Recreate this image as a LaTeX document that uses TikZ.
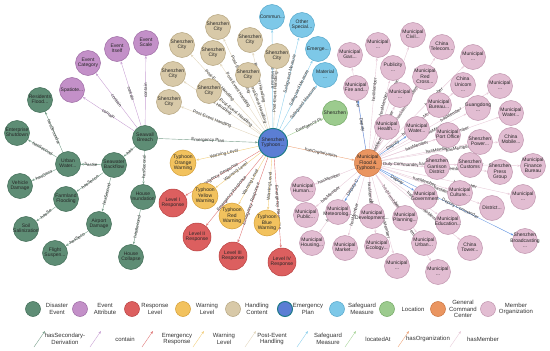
\documentclass[tikz,border=0pt]{standalone}
\usepackage{fontspec}
\setmainfont{Liberation Sans}
\usetikzlibrary{arrows.meta,backgrounds}
\definecolor{disF}{HTML}{5E8D75}\definecolor{disD}{HTML}{3F6B55}
\definecolor{attF}{HTML}{C390C8}\definecolor{attD}{HTML}{9C6AA3}
\definecolor{respF}{HTML}{DC5F5F}\definecolor{respD}{HTML}{B84040}
\definecolor{warnF}{HTML}{F2C25E}\definecolor{warnD}{HTML}{D49E35}
\definecolor{handF}{HTML}{D8C9A8}\definecolor{handD}{HTML}{B5A47F}
\definecolor{planF}{HTML}{5B7ED4}\definecolor{planD}{HTML}{1E7A87}
\definecolor{safeF}{HTML}{7DC8E8}\definecolor{safeD}{HTML}{55A7CB}
\definecolor{locF}{HTML}{9CCB8E}\definecolor{locD}{HTML}{72A864}
\definecolor{cmdF}{HTML}{EA9560}\definecolor{cmdD}{HTML}{C97440}
\definecolor{memF}{HTML}{E2BDD2}\definecolor{memD}{HTML}{C095AE}
\definecolor{eSecC}{HTML}{7AA08C}\definecolor{eConC}{HTML}{C9A2D4}
\definecolor{eRespC}{HTML}{E07A7A}\definecolor{eWarnC}{HTML}{F2CF80}
\definecolor{ePostC}{HTML}{E2D7BE}\definecolor{eSafeC}{HTML}{8FD0EC}
\definecolor{eLocC}{HTML}{A9D59B}\definecolor{eOrgC}{HTML}{EEA77D}
\definecolor{eMemC}{HTML}{E8CCDA}\definecolor{eDepC}{HTML}{5F93E0}
\newcommand{\ct}[1]{\makebox[0pt]{\begin{tabular}{@{}c@{}}#1\end{tabular}}}
\begin{document}
\begin{tikzpicture}[x=1pt,y=-1pt]
  \tikzset{nd/.style={circle,draw,line width=0.5pt,minimum size=25pt,inner sep=0pt,
      font=\fontsize{5}{5.5}\selectfont,text=black!85},
    dis/.style={nd,fill=disF,draw=disD}, att/.style={nd,fill=attF,draw=attD},
    resp/.style={nd,fill=respF,draw=respD,minimum size=28pt}, warn/.style={nd,fill=warnF,draw=warnD,minimum size=26pt},
    hand/.style={nd,fill=handF,draw=handD}, plan/.style={nd,fill=planF,draw=planD,line width=1pt,minimum size=29pt},
    safe/.style={nd,fill=safeF,draw=safeD}, loc/.style={nd,fill=locF,draw=locD},
    cmd/.style={nd,fill=cmdF,draw=cmdD,minimum size=27pt}, mem/.style={nd,fill=memF,draw=memD},
    ed/.style={line width=0.4pt,-{Stealth[length=3pt,width=2.2pt]}},
    eSec/.style={ed,draw=eSecC}, eCon/.style={ed,draw=eConC}, eResp/.style={ed,draw=eRespC},
    eWarn/.style={ed,draw=eWarnC}, ePost/.style={ed,draw=ePostC}, eSafe/.style={ed,draw=eSafeC},
    eLoc/.style={ed,draw=eLocC}, eOrg/.style={ed,draw=eOrgC}, eMem/.style={ed,draw=eMemC},
    eDep/.style={ed,draw=eDepC},
    lb/.style={sloped,inner sep=0.4pt,font=\fontsize{4.5}{5}\selectfont,text=black!80},
    lgt/.style={align=center,font=\fontsize{6}{6.6}\selectfont,text=black!80}}
  \useasboundingbox (0,0) rectangle (550,351);
  % disaster events
  \node[dis] (sb) at (145,138) {\ct{Seawall\\Breach}};
  \node[dis] (rf) at (40,100) {\ct{Residents\\Flood...}};
  \node[dis] (es) at (17,133) {\ct{Enterprise\\Shutdown}};
  \node[dis] (uw) at (68,164) {\ct{Urban\\Water...}};
  \node[dis] (bf) at (114,165) {\ct{Seawater\\Backflow}};
  \node[dis] (vd) at (20,186) {\ct{Vehicle\\Damage}};
  \node[dis] (ff) at (66,199) {\ct{Farmland\\Flooding}};
  \node[dis] (hi) at (143,197) {\ct{House\\Inundation}};
  \node[dis] (ss) at (26,229) {\ct{Soil\\Salinization}};
  \node[dis] (ad) at (99,224) {\ct{Airport\\Damage}};
  \node[dis] (fs) at (55,253) {\ct{Flight\\Suspen...}};
  \node[dis] (hc) at (131,257) {\ct{House\\Collapse}};
  % event attributes
  \node[att] (sp) at (72,90) {\ct{Spatiote...}};
  \node[att] (ec) at (88,63) {\ct{Event\\Category}};
  \node[att] (ei) at (117,49) {\ct{Event\\Itself}};
  \node[att] (esc) at (146,43) {\ct{Event\\Scale}};
  % plan and command centre
  \node[plan] (hub) at (273,143) {\ct{Shenzhen\\Typhoon...}};
  \node[cmd] (cmd) at (368,163) {\ct{Municipal\\Flood \&\\Typhoon...}};
  % handling content
  \node[hand] (c1) at (218,27) {\ct{Shenzhen\\City}};
  \node[hand] (c2) at (250,40) {\ct{Shenzhen\\City}};
  \node[hand] (c3) at (182,45) {\ct{Shenzhen\\City}};
  \node[hand] (c4) at (213,53) {\ct{Shenzhen\\City}};
  \node[hand] (c5) at (277,56) {\ct{Shenzhen\\City}};
  \node[hand] (c6) at (248,75) {\ct{Shenzhen\\City}};
  \node[hand] (c7) at (173,74) {\ct{Shenzhen\\City}};
  \node[hand] (c8) at (209,91) {\ct{Shenzhen\\City}};
  \node[hand] (c9) at (169,102) {\ct{Shenzhen\\City}};
  % safeguard measures and location
  \node[safe] (s1) at (272,17) {\ct{Commun...}};
  \node[safe] (s2) at (302,25) {\ct{Other\\Special...}};
  \node[safe] (s3) at (318,49) {\ct{Emerge...}};
  \node[safe] (s4) at (325,75) {\ct{Material\\...}};
  \node[loc] (lsz) at (335,113) {\ct{Shenzhen}};
  % warning and response levels
  \node[warn] (w1) at (183,163) {\ct{Typhoon\\Orange\\Warning}};
  \node[warn] (w2) at (205,196) {\ct{Typhoon\\Yellow\\Warning}};
  \node[warn] (w3) at (232,216) {\ct{Typhoon\\Red\\Warning}};
  \node[warn] (w4) at (267,223) {\ct{Typhoon\\Blue\\Warning}};
  \node[resp] (r1) at (173,203) {\ct{Level I\\Response}};
  \node[resp] (r2) at (197,237) {\ct{Level II\\Response}};
  \node[resp] (r3) at (233,256) {\ct{Level III\\Response}};
  \node[resp] (r4) at (282,262) {\ct{Level IV\\Response}};
  % member organizations
  \node[mem] (m1) at (350,55) {\ct{Municipal\\Gas...}};
  \node[mem] (m2) at (378,45) {\ct{Municipal\\...}};
  \node[mem] (m3) at (413,35) {\ct{Municipal\\Civil...}};
  \node[mem] (m4) at (393,68) {\ct{Publicity\\...}};
  \node[mem] (m5) at (356,88) {\ct{Municipal\\Fire and...}};
  \node[mem] (m6) at (400,95) {\ct{Municipal\\...}};
  \node[mem] (m7) at (387,127) {\ct{Municipal\\Health...}};
  \node[mem] (m8) at (417,129) {\ct{Municipal\\Water...}};
  \node[mem] (m9) at (425,77) {\ct{Municipal\\Red\\Cross...}};
  \node[mem] (m10) at (442,47) {\ct{China\\Telecom...}};
  \node[mem] (m11) at (473,57) {\ct{Municipal\\...}};
  \node[mem] (m12) at (463,85) {\ct{China\\Unicom\\...}};
  \node[mem] (m13) at (500,86) {\ct{Municipal\\...}};
  \node[mem] (m14) at (439,105) {\ct{Municipal\\Bureau...}};
  \node[mem] (m15) at (478,108) {\ct{Guangdong\\...}};
  \node[mem] (m16) at (511,113) {\ct{Municipal\\Water...}};
  \node[mem] (m17) at (448,135) {\ct{Municipal\\Port Office}};
  \node[mem] (m18) at (480,142) {\ct{Shenzhen\\Power...}};
  \node[mem] (m19) at (511,140) {\ct{China\\Mobile...}};
  \node[mem] (m20) at (437,167) {\ct{Shenzhen\\Garrison\\District}};
  \node[mem] (m21) at (470,165) {\ct{Shenzhen\\Customs}};
  \node[mem] (m22) at (500,172) {\ct{Shenzhen\\Press\\Group}};
  \node[mem] (m23) at (533,166) {\ct{Municipal\\Finance\\Bureau}};
  \node[mem] (m24) at (425,197) {\ct{Municipal\\Government}};
  \node[mem] (m25) at (460,193) {\ct{Municipal\\Culture...}};
  \node[mem] (m26) at (492,208) {\ct{District...}};
  \node[mem] (m27) at (523,197) {\ct{Municipal\\...}};
  \node[mem] (m28) at (448,222) {\ct{Municipal\\Education...}};
  \node[mem] (m29) at (525,241) {\ct{Shenzhen\\Broadcasting\\...}};
  \node[mem] (m30) at (405,218) {\ct{Municipal\\Planning...}};
  \node[mem] (m31) at (424,243) {\ct{Municipal\\Urban...}};
  \node[mem] (m32) at (470,248) {\ct{China\\Tower...}};
  \node[mem] (m33) at (438,272) {\ct{Municipal\\...}};
  \node[mem] (m34) at (397,266) {\ct{Municipal\\...}};
  \node[mem] (m35) at (303,189) {\ct{Municipal\\Human...}};
  \node[mem] (m36) at (306,215) {\ct{Municipal\\Public...}};
  \node[mem] (m37) at (338,212) {\ct{Municipal\\Meteorolog...}};
  \node[mem] (m38) at (372,216) {\ct{Municipal\\Development...}};
  \node[mem] (m39) at (312,243) {\ct{Municipal\\Housing...}};
  \node[mem] (m40) at (345,248) {\ct{Municipal\\Market...}};
  \node[mem] (m41) at (377,246) {\ct{Municipal\\Ecology...}};
  \begin{scope}[on background layer]
    \draw[eSec] (uw) -- node[lb] {hasSecondar} (rf);
    \draw[eSec] (uw) -- node[lb] {hasSecond} (es);
    \draw[eSec] (uw) -- node[lb] {hasSeco} (vd);
    \draw[eSec] (bf) -- node[lb] {hasSe} (uw);
    \draw[eSec] (bf) -- node[lb] {hasSecon} (ff);
    \draw[eSec] (ff) -- node[lb] {hasSe} (ss);
    \draw[eSec] (bf) -- node[lb] {hasSecond} (ad);
    \draw[eSec] (ad) -- node[lb] {hasSeco} (fs);
    \draw[eSec] (sb) -- node[lb] {has} (bf);
    \draw[eSec] (sb) -- node[lb] {hasSecond} (hi);
    \draw[eSec] (hi) -- node[lb] {hasSecond} (hc);
    \draw[eSec] (sb) -- node[lb] {Emergency Plan} (hub);
    \foreach \a in {sp,ec,ei,esc} \draw[eCon] (sb) -- node[lb] {contain} (\a);
    \foreach \c in {1,...,9} \draw[ePost] (hub) -- node[lb,pos=0.6] {Post-Event Handling} (c\c);
    \foreach \s in {1,...,4} \draw[eSafe] (hub) -- node[lb,pos=0.6] {Safeguard Measure} (s\s);
    \draw[eLoc] (hub) -- node[lb,pos=0.6] {Emergency Pl} (lsz);
    \foreach \w in {1,...,4} \draw[eWarn] (hub) -- node[lb,pos=0.55] {Warning Level} (w\w);
    \foreach \r in {1,...,4} \draw[eResp] (hub) -- node[lb,pos=0.55] {Emergency Response} (r\r);
    \draw[eOrg] (hub) -- node[lb] {hasOrganization} (cmd);
    \foreach \m in {1,2,3,4,6,7,9,10,11,12,13,14,15,16,17,18,19,21,22,23,25,26,27,28,30,31,32,33,34,35,36,38,39,40,41}
      \draw[eMem] (cmd) -- node[lb,pos=0.65] {hasMember} (m\m);
    \draw[eMem] (cmd) -- node[lb,pos=0.45] {Duty Commander} (m20);
    \draw[eDep] (cmd) -- node[lb] {Deputy} (m5);
    \draw[eDep] (cmd) -- node[lb] {Deputy} (m8);
    \draw[eDep] (cmd) -- node[lb] {Deputy} (m24);
    \draw[eDep] (cmd) -- node[lb] {Deputy C} (m37);
    \draw[eDep] (cmd) -- node[lb,pos=0.6] {Deputy Commander} (m29);
  \end{scope}
  % legend
  \node[dis,minimum size=15pt] (k1) at (33,309) {};
  \node[att,minimum size=15pt] (k2) at (80,309) {};
  \node[resp,minimum size=15pt] (k3) at (132,309) {};
  \node[warn,minimum size=15pt] (k4) at (183,309) {};
  \node[hand,minimum size=15pt] (k5) at (233,309) {};
  \node[plan,minimum size=15pt] (k6) at (285,309) {};
  \node[safe,minimum size=15pt] (k7) at (337,309) {};
  \node[loc,minimum size=15pt] (k8) at (387,309) {};
  \node[cmd,minimum size=15pt] (k9) at (438,309) {};
  \node[mem,minimum size=15pt] (k10) at (488,309) {};
  \foreach \n/\x/\lab in {1/57/{Disaster\\Event},2/105/{Event\\Attribute},3/155/{Response\\Level},
      4/207/{Warning\\Level},5/257/{Handling\\Content},6/308/{Emergency\\Plan},7/362/{Safeguard\\Measure},
      8/413/{Location},9/463/{General\\Command\\Center},10/516/{Member\\Organization}}
    \node[lgt] (kt\n) at (\x,309) {\lab};
  \foreach \n/\x/\c/\lx/\lab in {1/34/eSecC/65/{hasSecondary-\\Derivation},2/90/eConC/125/{contain},
      3/142/eRespC/177/{Emergency\\Response},4/193/eWarnC/224/{Warning\\Level},5/245/ePostC/272/{Post-Event\\Handling},
      6/297/eSafeC/328/{Safeguard\\Measure},7/345/eLocC/378/{locatedAt},8/398/eOrgC/428/{hasOrganization},
      9/450/eMemC/483/{hasMember}}{
    \coordinate (la\n) at (\x,347);
    \coordinate (lb\n) at (\x+11,331);
    \draw[ed,draw=\c] (la\n) -- (lb\n);
    \node[lgt] (lt\n) at (\lx,339) {\lab};
  }
\end{tikzpicture}
\end{document}
